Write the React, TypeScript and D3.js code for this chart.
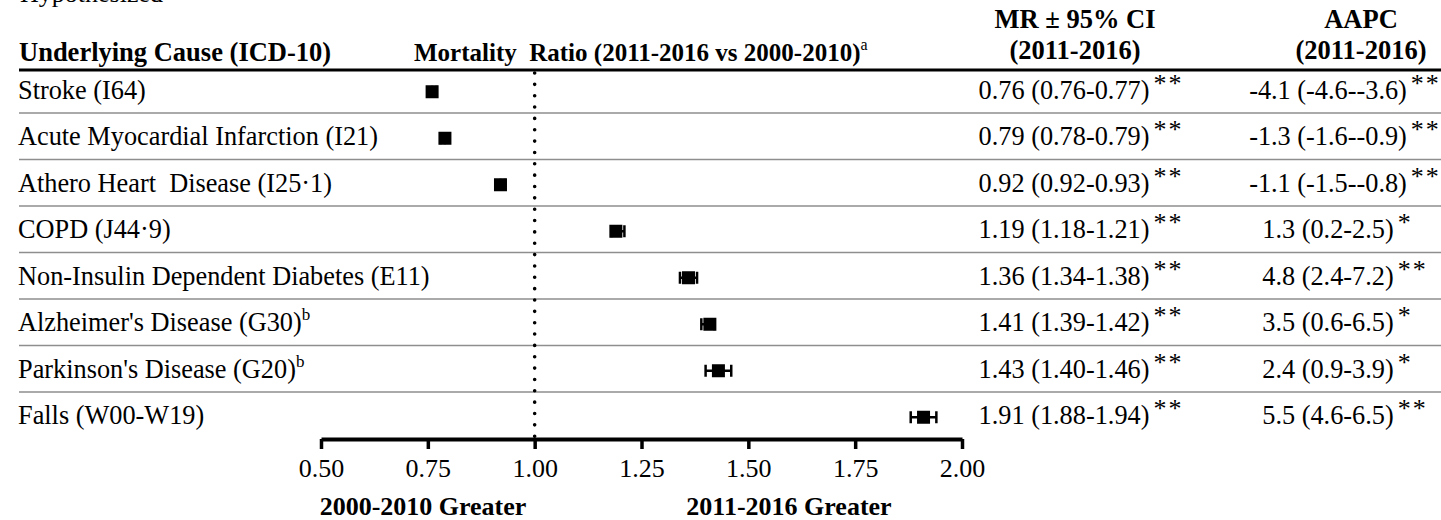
import React, { useRef, useEffect } from "react";
import * as d3 from "d3";

// rows of the table, top to bottom
const causes = [
  "Stroke (I64)",
  "Acute Myocardial Infarction (I21)",
  "Athero Heart  Disease (I25·1)",
  "COPD (J44·9)",
  "Non-Insulin Dependent Diabetes (E11)",
  "Alzheimer's Disease (G30)",
  "Parkinson's Disease (G20)",
  "Falls (W00-W19)",
];
const causeNotes = ["", "", "", "", "", "b", "b", ""];

// mortality ratio 2011-2016 vs 2000-2010
const mr = [0.76, 0.79, 0.92, 1.19, 1.36, 1.41, 1.43, 1.91];
const mrLow = [0.76, 0.78, 0.92, 1.18, 1.34, 1.39, 1.4, 1.88];
const mrHigh = [0.77, 0.79, 0.93, 1.21, 1.38, 1.42, 1.46, 1.94];
const mrStars = ["**", "**", "**", "**", "**", "**", "**", "**"];

// annual average percent change
const aapc = [-4.1, -1.3, -1.1, 1.3, 4.8, 3.5, 2.4, 5.5];
const aapcLow = [-4.6, -1.6, -1.5, 0.2, 2.4, 0.6, 0.9, 4.6];
const aapcHigh = [-3.6, -0.9, -0.8, 2.5, 7.2, 6.5, 3.9, 6.5];
const aapcStars = ["**", "**", "**", "*", "**", "*", "*", "**"];

const axisTicks = [0.5, 0.75, 1, 1.25, 1.5, 1.75, 2];

const W = 1441;
const H = 520;
const FONT = "'Liberation Serif', 'Times New Roman', serif";

const App = () => {
  const svgRef = useRef<SVGSVGElement>(null);

  useEffect(() => {
    const svg = d3.select(svgRef.current);
    svg.selectAll("*").remove();
    svg.style("font-family", FONT);

    const x = d3.scaleLinear().domain([0.5, 2]).range([321, 962]);
    const y = d3.scaleBand().domain(causes).range([66.5, 438.5]);
    const bw = y.bandwidth();
    const mid = (c: string) => (y(c) as number) + bw / 2;

    // cut off title at the very top
    svg.append("text").attr("x", 20).attr("y", 2).attr("font-size", 26).text("Hypothesized");

    // headers
    svg.append("text").attr("x", 19).attr("y", 61).attr("font-size", 26.5)
      .attr("font-weight", "bold").text("Underlying Cause (ICD-10)");
    const mh = svg.append("text").attr("x", 414).attr("y", 61).attr("font-size", 25)
      .attr("font-weight", "bold").attr("xml:space", "preserve");
    mh.append("tspan").text("Mortality  Ratio (2011-2016 vs 2000-2010)");
    mh.append("tspan").attr("font-size", 16).attr("font-weight", "normal")
      .attr("dy", -11).text("a");

    const colHead = (cx: number, l1: string, l2: string) => {
      svg.append("text").attr("x", cx).attr("y", 28).attr("font-size", 26.5)
        .attr("font-weight", "bold").attr("text-anchor", "middle").text(l1);
      svg.append("text").attr("x", cx).attr("y", 59).attr("font-size", 26.5)
        .attr("font-weight", "bold").attr("text-anchor", "middle").text(l2);
    };
    colHead(1075, "MR ± 95% CI", "(2011-2016)");
    colHead(1361, "AAPC", "(2011-2016)");

    svg.append("line").attr("x1", 19).attr("x2", W).attr("y1", 70).attr("y2", 70)
      .attr("stroke", "#000").attr("stroke-width", 3);

    // row separators
    causes.slice(1).forEach((c) => {
      svg.append("line").attr("x1", 19).attr("x2", W)
        .attr("y1", y(c) as number).attr("y2", y(c) as number)
        .attr("stroke", "#8e8e8e").attr("stroke-width", 1.5);
    });

    // reference line at 1
    svg.append("line").attr("x1", x(1)).attr("x2", x(1)).attr("y1", 73).attr("y2", 438)
      .attr("stroke", "#000").attr("stroke-width", 3.6)
      .attr("stroke-linecap", "round").attr("stroke-dasharray", "0 11.35");

    causes.forEach((c, i) => {
      const cy = mid(c);
      const lab = svg.append("text").attr("x", 18).attr("y", cy + 9).attr("font-size", 26.3)
        .attr("xml:space", "preserve");
      lab.append("tspan").text(c);
      if (causeNotes[i]) {
        lab.append("tspan").attr("font-size", 17).attr("dy", -11).text(causeNotes[i]);
      }

      // error bar + marker
      const my = cy + 2;
      const eb = svg.append("g").attr("stroke", "#000").attr("stroke-width", 2.5);
      eb.append("line").attr("x1", x(mrLow[i])).attr("x2", x(mrHigh[i])).attr("y1", my).attr("y2", my);
      eb.append("line").attr("x1", x(mrLow[i])).attr("x2", x(mrLow[i])).attr("y1", my - 6).attr("y2", my + 6);
      eb.append("line").attr("x1", x(mrHigh[i])).attr("x2", x(mrHigh[i])).attr("y1", my - 6).attr("y2", my + 6);
      svg.append("rect").attr("x", x(mr[i]) - 6.5).attr("y", my - 6.5)
        .attr("width", 13).attr("height", 13).attr("fill", "#000");

      // value columns
      const cell = (cx: number, txt: string, stars: string) => {
        const t = svg.append("text").attr("x", cx).attr("y", cy + 9).attr("font-size", 26.3)
          .attr("text-anchor", "middle").text(txt);
        const bb = (t.node() as SVGTextElement).getBBox();
        svg.append("text").attr("x", bb.x + bb.width + 4).attr("y", cy + 2)
          .attr("font-size", 26).attr("letter-spacing", 2).text(stars);
      };
      cell(1064, `${mr[i].toFixed(2)} (${mrLow[i].toFixed(2)}-${mrHigh[i].toFixed(2)})`, mrStars[i]);
      cell(1328, `${aapc[i].toFixed(1)} (${aapcLow[i].toFixed(1)}-${aapcHigh[i].toFixed(1)})`, aapcStars[i]);
    });

    // x axis
    const axis = d3.axisBottom(x).tickValues(axisTicks).tickSize(10).tickSizeOuter(0)
      .tickPadding(9.5).tickFormat(d3.format(".2f"));
    const ag = svg.append("g").attr("transform", "translate(0,439)").call(axis);
    ag.select(".domain").attr("stroke-width", 4).attr("stroke", "#000");
    ag.selectAll(".tick line").attr("stroke-width", 3.5).attr("stroke", "#000");
    ag.selectAll(".tick text").attr("font-size", 26).attr("font-family", FONT).attr("fill", "#000");

    svg.append("text").attr("x", 423).attr("y", 515).attr("font-size", 26)
      .attr("font-weight", "bold").attr("text-anchor", "middle").text("2000-2010 Greater");
    svg.append("text").attr("x", 789).attr("y", 515).attr("font-size", 26)
      .attr("font-weight", "bold").attr("text-anchor", "middle").text("2011-2016 Greater");
  }, []);

  return (
    <svg
      ref={svgRef}
      width={W}
      height={H}
      style={{ position: "absolute", left: 0, top: 0, background: "#fff" }}
    />
  );
};

export default App;
